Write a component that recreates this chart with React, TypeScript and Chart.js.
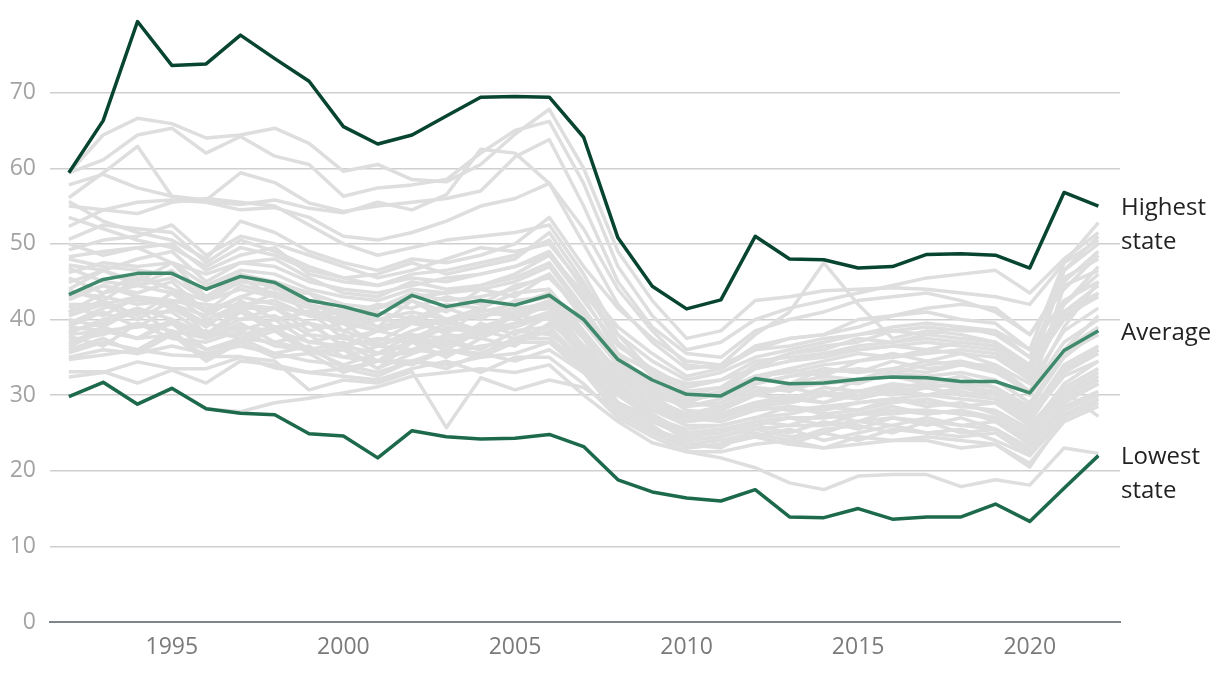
import React, { useEffect, useRef } from "react";
import { Chart, registerables } from "chart.js";
Chart.register(...registerables);

const years = [1992, 1993, 1994, 1995, 1996, 1997, 1998, 1999, 2000, 2001, 2002, 2003, 2004, 2005, 2006, 2007, 2008, 2009, 2010, 2011, 2012, 2013, 2014, 2015, 2016, 2017, 2018, 2019, 2020, 2021, 2022];

const xTickValues = [1995, 2000, 2005, 2010, 2015, 2020];
const yTickValues = [0, 10, 20, 30, 40, 50, 60, 70];

const highest = [59.4, 66.3, 79.4, 73.6, 73.8, 77.6, 74.5, 71.5, 65.5, 63.2, 64.4, 66.9, 69.4, 69.5, 69.4, 64.1, 50.8, 44.4, 41.4, 42.6, 51.0, 48.0, 47.9, 46.8, 47.0, 48.6, 48.7, 48.5, 46.8, 56.8, 55.0];
const average = [43.3, 45.3, 46.1, 46.1, 44.0, 45.7, 44.9, 42.5, 41.7, 40.5, 43.2, 41.7, 42.5, 41.9, 43.2, 40.0, 34.7, 32.0, 30.1, 29.9, 32.2, 31.5, 31.6, 32.1, 32.4, 32.3, 31.8, 31.8, 30.3, 35.9, 38.5];
const lowest = [29.8, 31.7, 28.8, 30.9, 28.2, 27.6, 27.4, 24.9, 24.6, 21.7, 25.3, 24.5, 24.2, 24.3, 24.8, 23.2, 18.8, 17.2, 16.4, 16.0, 17.5, 13.9, 13.8, 15.0, 13.6, 13.9, 13.9, 15.6, 13.3, 17.7, 22.0];

const highlightNames = ["Highest state", "Average", "Lowest state"];
const highlightLines = [["Highest", "state"], ["Average"], ["Lowest", "state"]];

const stateSeries = [
  [59.4, 64.4, 66.6, 65.9, 64.0, 64.4, 65.3, 63.3, 59.6, 60.5, 58.5, 58.2, 60.5, 64.5, 67.8, 60.0, 49.0, 42.5, 37.5, 38.5, 42.5, 43.0, 43.8, 44.0, 44.2, 44.0, 43.5, 43.0, 42.0, 47.5, 50.5],
  [59.4, 61.1, 64.4, 65.3, 62.0, 64.2, 61.6, 60.5, 56.3, 57.4, 57.8, 58.5, 62.0, 65.0, 66.2, 58.0, 47.0, 40.5, 36.0, 37.0, 40.0, 41.5, 42.5, 43.5, 44.5, 45.5, 46.0, 46.5, 43.5, 48.0, 51.5],
  [56.1, 59.4, 62.9, 56.3, 55.8, 59.4, 58.1, 55.4, 54.3, 55.0, 55.5, 56.0, 57.0, 61.5, 63.8, 55.0, 45.0, 39.0, 35.5, 35.0, 38.5, 40.0, 41.0, 42.5, 43.0, 43.5, 42.5, 41.0, 38.0, 44.0, 48.5],
  [57.8, 59.2, 57.4, 56.3, 55.6, 55.2, 55.8, 54.7, 54.1, 55.5, 54.5, 56.5, 62.5, 62.0, 58.0, 52.0, 44.0, 38.5, 34.0, 33.5, 36.5, 37.5, 38.0, 40.0, 40.5, 41.0, 40.0, 39.5, 36.0, 42.5, 45.0],
  [55.0, 54.5, 55.5, 55.8, 55.5, 54.5, 54.8, 53.5, 51.0, 50.5, 51.5, 53.0, 55.0, 56.0, 58.0, 50.0, 42.0, 37.0, 33.5, 34.0, 36.0, 36.5, 37.5, 38.0, 39.0, 39.5, 39.0, 38.0, 35.0, 41.0, 43.5],
  [52.3, 54.5, 54.0, 55.5, 56.0, 55.5, 55.0, 52.5, 50.0, 48.5, 49.5, 50.5, 51.0, 51.5, 52.5, 46.0, 38.0, 33.0, 29.5, 30.0, 31.5, 32.5, 33.0, 33.5, 33.0, 34.0, 34.5, 33.5, 30.0, 44.5, 46.5],
  [55.6, 53.0, 51.5, 50.5, 48.0, 53.0, 51.5, 49.0, 47.5, 46.5, 48.0, 47.5, 48.5, 50.0, 53.5, 47.0, 41.5, 37.5, 34.5, 34.0, 38.0, 41.0, 47.5, 42.0, 37.5, 38.5, 38.0, 37.0, 34.0, 42.0, 47.0],
  [50.6, 52.5, 52.0, 51.5, 47.5, 50.5, 49.0, 47.0, 45.5, 46.0, 47.5, 46.0, 47.0, 48.0, 51.5, 45.0, 37.0, 32.5, 29.0, 28.5, 30.5, 31.0, 31.5, 32.0, 32.5, 32.0, 31.5, 31.0, 28.0, 36.0, 40.5],
  [49.2, 50.5, 51.0, 52.5, 48.5, 51.0, 50.0, 48.5, 47.0, 45.5, 46.5, 48.0, 49.5, 49.0, 50.0, 44.5, 39.0, 35.5, 32.5, 33.5, 36.0, 37.5, 38.0, 39.0, 40.5, 41.5, 42.0, 41.5, 38.0, 45.0, 49.0],
  [48.3, 49.0, 49.5, 50.0, 46.5, 48.5, 49.5, 46.0, 45.0, 44.5, 45.5, 45.0, 46.0, 47.0, 49.0, 43.0, 35.5, 31.0, 28.0, 27.5, 29.0, 29.5, 29.0, 30.0, 30.5, 31.0, 30.0, 29.5, 26.5, 33.0, 36.0],
  [47.2, 46.5, 48.0, 49.0, 45.0, 47.5, 48.0, 45.5, 43.5, 43.0, 45.0, 44.0, 44.5, 46.0, 48.5, 42.5, 36.5, 33.5, 31.0, 32.0, 34.5, 35.0, 35.5, 36.5, 37.0, 37.5, 37.0, 36.5, 33.5, 40.5, 43.0],
  [46.2, 47.5, 47.0, 47.5, 44.5, 46.5, 46.0, 44.0, 43.0, 42.5, 44.0, 43.5, 44.0, 45.0, 47.0, 41.0, 34.0, 30.0, 27.0, 26.5, 28.0, 28.5, 28.0, 29.0, 29.5, 29.0, 28.5, 28.0, 25.5, 31.5, 34.5],
  [44.9, 46.5, 45.0, 47.5, 43.0, 46.0, 44.0, 43.5, 40.5, 42.0, 41.5, 43.0, 42.0, 44.5, 45.5, 41.0, 34.5, 31.5, 29.0, 30.5, 32.0, 33.5, 32.5, 34.5, 35.5, 34.5, 35.5, 34.0, 31.5, 38.5, 41.5],
  [43.9, 42.5, 45.5, 44.0, 41.0, 43.0, 44.5, 40.5, 41.5, 39.0, 42.5, 40.0, 41.5, 43.5, 44.0, 37.5, 30.5, 27.0, 24.0, 24.5, 26.0, 25.0, 26.5, 25.5, 27.0, 26.0, 27.0, 25.5, 23.0, 28.5, 30.5],
  [42.6, 44.5, 43.0, 42.5, 42.0, 41.5, 43.5, 42.0, 38.5, 40.0, 39.5, 41.5, 40.0, 42.5, 43.0, 39.5, 34.0, 31.5, 29.5, 30.0, 32.5, 31.5, 33.5, 33.0, 34.5, 33.5, 34.0, 33.5, 30.0, 36.0, 39.0],
  [41.7, 40.5, 43.0, 41.5, 39.0, 42.5, 40.0, 41.0, 37.5, 38.5, 40.5, 38.0, 41.5, 40.0, 42.0, 36.0, 29.0, 26.0, 23.0, 23.5, 24.5, 25.5, 24.0, 25.0, 26.0, 25.0, 25.5, 24.0, 22.0, 27.0, 29.0],
  [40.9, 42.5, 40.5, 43.5, 41.0, 40.0, 41.5, 38.5, 39.5, 36.5, 38.5, 40.0, 38.5, 41.0, 41.5, 38.0, 33.0, 30.0, 28.5, 29.0, 31.0, 30.5, 32.0, 31.5, 33.0, 32.5, 33.0, 32.0, 29.0, 35.5, 38.0],
  [40.0, 39.0, 41.5, 40.0, 37.5, 41.0, 38.5, 39.5, 36.5, 37.5, 37.0, 39.0, 38.0, 40.5, 40.0, 35.0, 28.5, 25.5, 23.5, 24.0, 25.0, 24.0, 25.5, 26.0, 25.0, 26.5, 25.0, 25.5, 22.5, 27.5, 29.5],
  [39.1, 41.0, 39.0, 41.5, 39.5, 38.5, 40.0, 37.0, 38.0, 35.5, 38.0, 36.5, 39.5, 38.0, 40.5, 36.5, 32.0, 29.5, 27.5, 28.0, 30.0, 29.5, 31.0, 30.5, 31.5, 31.0, 31.5, 30.0, 27.5, 34.0, 36.5],
  [38.2, 40.0, 41.5, 38.0, 38.5, 37.5, 39.0, 36.0, 37.0, 34.5, 37.5, 36.0, 38.5, 37.5, 39.0, 34.0, 28.0, 25.5, 23.5, 23.0, 25.5, 24.5, 25.0, 26.5, 26.0, 27.0, 26.0, 26.5, 23.5, 29.0, 31.5],
  [37.3, 38.0, 39.5, 37.5, 37.0, 38.5, 36.5, 36.0, 34.0, 35.5, 35.5, 37.0, 36.0, 38.5, 38.0, 35.0, 31.0, 28.5, 27.0, 27.5, 28.5, 29.5, 30.5, 29.5, 31.0, 30.0, 30.5, 29.5, 27.0, 33.5, 36.0],
  [36.4, 38.5, 37.5, 40.0, 38.0, 38.0, 39.0, 35.5, 36.5, 33.5, 37.0, 35.0, 37.5, 36.5, 39.5, 36.0, 31.5, 29.0, 27.5, 28.0, 30.0, 31.0, 30.0, 32.0, 32.5, 31.5, 32.5, 31.0, 28.5, 35.0, 38.5],
  [35.6, 37.0, 36.0, 38.5, 35.0, 37.5, 35.5, 36.5, 33.5, 34.5, 34.0, 36.0, 35.0, 37.0, 37.0, 33.0, 27.5, 25.0, 23.0, 23.5, 24.5, 23.5, 25.0, 24.0, 25.5, 25.0, 24.5, 25.0, 22.0, 28.0, 30.0],
  [34.7, 35.3, 36.0, 35.3, 35.1, 35.1, 33.6, 33.0, 33.5, 32.5, 34.5, 33.5, 35.5, 34.5, 36.0, 33.0, 29.0, 27.0, 25.5, 26.0, 27.0, 27.5, 28.5, 28.0, 29.0, 29.5, 28.5, 29.0, 26.0, 31.0, 33.5],
  [33.1, 33.1, 31.6, 33.3, 31.6, 34.5, 34.0, 33.0, 32.5, 32.0, 33.5, 34.5, 33.0, 35.0, 35.0, 31.5, 27.0, 24.5, 22.5, 22.5, 23.5, 24.0, 23.0, 24.5, 24.0, 24.5, 24.0, 23.5, 21.0, 26.5, 28.5],
  [32.4, 33.0, 34.4, 33.5, 33.5, 35.0, 34.5, 30.7, 32.0, 31.6, 33.1, 25.7, 32.3, 30.7, 32.0, 31.0, 28.0, 25.5, 24.0, 24.5, 25.5, 26.0, 26.0, 26.5, 27.0, 26.5, 26.0, 25.5, 23.0, 28.5, 30.0],
  [29.8, 31.7, 28.8, 30.9, 28.2, 27.8, 29.0, 29.6, 30.3, 31.1, 32.5, 33.0, 33.5, 33.0, 34.0, 30.0, 26.5, 23.7, 22.5, 21.7, 20.4, 18.4, 17.5, 19.3, 19.5, 19.5, 17.9, 18.8, 18.1, 23.0, 22.3],
  [45.5, 43.5, 46.0, 44.0, 42.5, 44.0, 43.0, 41.5, 39.5, 41.0, 40.0, 42.0, 41.5, 43.5, 44.0, 38.5, 33.0, 30.5, 29.0, 30.5, 33.5, 35.5, 36.0, 37.5, 37.0, 38.0, 37.5, 37.0, 34.0, 46.5, 50.0],
  [43.0, 44.5, 43.5, 45.0, 41.0, 44.5, 43.5, 42.0, 40.5, 39.0, 40.0, 41.5, 42.5, 42.0, 43.0, 37.5, 31.0, 28.0, 26.0, 26.0, 27.0, 28.5, 27.5, 28.0, 29.5, 28.5, 29.0, 27.5, 25.0, 30.5, 33.0],
  [41.0, 43.5, 44.5, 43.5, 40.0, 42.0, 42.5, 40.5, 41.0, 40.0, 41.0, 40.0, 40.5, 41.5, 42.0, 37.5, 33.5, 31.0, 30.0, 31.0, 34.0, 35.5, 36.5, 37.0, 38.5, 38.0, 39.0, 38.5, 35.0, 45.5, 48.0],
  [39.5, 41.5, 42.5, 42.0, 39.5, 41.5, 41.5, 39.5, 38.5, 37.0, 39.5, 38.5, 39.0, 40.5, 42.0, 36.5, 30.0, 27.5, 25.0, 25.5, 26.0, 27.0, 26.0, 27.5, 28.5, 27.5, 28.0, 27.0, 24.5, 30.0, 32.0],
  [38.5, 39.5, 41.0, 41.0, 38.0, 40.0, 40.5, 38.0, 37.5, 36.5, 38.0, 37.5, 38.5, 39.5, 41.0, 36.5, 32.5, 30.5, 29.5, 30.5, 32.5, 33.5, 34.5, 35.5, 35.0, 36.0, 35.5, 35.0, 32.0, 41.0, 44.5],
  [37.8, 36.5, 39.5, 38.5, 37.5, 39.5, 37.0, 38.0, 35.0, 36.5, 36.0, 38.0, 37.5, 39.5, 40.5, 35.5, 30.5, 28.0, 26.5, 27.5, 29.0, 30.0, 29.0, 30.5, 30.0, 31.0, 30.0, 30.5, 27.5, 33.0, 35.5],
  [36.8, 39.0, 37.5, 39.5, 36.0, 37.0, 38.5, 35.5, 36.0, 33.5, 35.5, 37.5, 36.0, 38.5, 39.0, 34.5, 30.0, 28.0, 26.5, 27.0, 28.5, 29.0, 30.0, 29.5, 30.5, 30.0, 31.0, 30.0, 27.0, 32.5, 34.5],
  [48.0, 47.0, 46.5, 46.0, 44.0, 46.0, 45.0, 43.5, 42.0, 41.5, 43.0, 43.5, 44.5, 45.5, 47.5, 41.5, 35.0, 31.5, 29.5, 30.0, 32.5, 33.0, 34.0, 34.5, 35.0, 35.5, 36.0, 35.5, 32.5, 46.5, 51.0],
  [46.8, 45.0, 44.5, 45.5, 42.5, 45.0, 44.5, 42.0, 41.0, 41.5, 43.5, 42.5, 43.0, 44.0, 46.0, 40.5, 34.0, 30.5, 28.5, 29.5, 31.5, 32.5, 33.5, 33.0, 33.5, 34.5, 34.0, 34.0, 30.5, 39.0, 45.0],
  [44.0, 46.5, 44.5, 46.5, 42.5, 45.5, 43.0, 43.5, 40.0, 41.5, 42.5, 41.0, 44.0, 43.0, 46.0, 40.0, 35.5, 33.0, 31.5, 32.0, 33.5, 34.5, 35.0, 36.0, 36.5, 36.0, 37.0, 36.5, 33.5, 40.0, 43.5],
  [42.0, 42.0, 43.0, 42.0, 40.5, 43.0, 42.0, 40.5, 39.5, 38.5, 39.5, 39.5, 41.0, 42.0, 43.5, 38.0, 32.5, 29.5, 27.5, 27.5, 29.0, 29.0, 30.0, 30.5, 31.0, 31.5, 31.0, 30.5, 27.5, 33.0, 36.0],
  [40.5, 42.0, 40.0, 42.5, 38.0, 41.5, 39.0, 39.5, 36.5, 38.5, 37.5, 39.5, 38.5, 41.0, 41.5, 36.0, 30.0, 27.0, 24.5, 25.0, 26.5, 26.0, 27.5, 26.5, 28.0, 27.5, 28.0, 26.5, 24.0, 30.0, 32.5],
  [39.0, 38.5, 39.0, 39.5, 37.5, 39.0, 38.5, 37.0, 36.5, 35.5, 37.0, 37.0, 38.0, 39.0, 40.5, 35.5, 30.0, 27.0, 25.0, 25.0, 26.5, 27.0, 27.0, 27.5, 27.5, 28.0, 27.5, 27.0, 24.5, 30.0, 32.0],
  [35.0, 36.0, 35.5, 36.5, 35.5, 36.5, 35.5, 34.5, 34.0, 33.0, 34.5, 34.0, 35.0, 35.5, 37.0, 33.5, 29.0, 26.5, 25.0, 25.5, 26.5, 27.0, 27.0, 27.5, 28.0, 28.0, 27.5, 27.0, 24.5, 29.5, 31.5],
  [50.0, 48.5, 49.5, 47.5, 46.0, 47.5, 47.0, 45.0, 44.0, 43.5, 44.5, 45.5, 46.0, 47.0, 48.5, 43.5, 38.0, 34.5, 32.0, 33.0, 35.0, 36.0, 37.0, 38.0, 38.5, 39.0, 38.5, 38.5, 36.0, 47.5, 52.8],
  [53.5, 52.0, 50.5, 49.5, 47.0, 49.5, 48.5, 46.5, 45.5, 44.5, 46.0, 46.5, 47.5, 48.5, 50.5, 44.0, 37.0, 33.0, 30.5, 31.0, 33.5, 34.5, 35.5, 36.0, 36.5, 37.0, 36.5, 36.0, 33.0, 42.0, 46.0],
  [43.5, 43.0, 42.0, 42.5, 41.5, 42.0, 41.5, 41.0, 40.0, 38.5, 39.5, 40.0, 40.5, 41.0, 42.5, 37.5, 31.5, 28.5, 26.5, 27.0, 28.5, 28.0, 28.5, 29.0, 29.5, 30.0, 29.5, 29.0, 26.0, 30.5, 27.2],
  [38.0, 38.5, 37.5, 38.0, 36.0, 37.5, 37.0, 36.0, 35.0, 34.5, 36.0, 35.5, 36.5, 37.0, 38.5, 34.0, 29.0, 26.5, 24.5, 24.0, 24.5, 23.5, 23.0, 23.5, 24.0, 24.0, 23.0, 23.5, 20.5, 27.0, 29.5],
  [36.0, 37.5, 35.5, 38.0, 34.5, 37.0, 35.0, 35.5, 33.0, 34.5, 34.5, 36.0, 35.5, 37.5, 37.5, 34.0, 30.5, 28.5, 27.5, 28.5, 30.0, 31.5, 32.5, 32.0, 33.5, 33.0, 34.0, 33.0, 30.5, 37.0, 40.0],
];

const GRAY = "#dedede";
const HIGHLIGHT_COLORS = ["#074530", "#3f8a6c", "#1c6a4b"];
const FONT = "'Open Sans', 'Noto Sans', sans-serif";

function toPoints(vals: number[]) {
  return years.map((yr, i) => ({ x: yr, y: vals[i] }));
}

const endLabelPlugin = {
  id: "endLabels",
  afterDatasetsDraw(chart: any) {
    const { ctx, chartArea, scales } = chart;
    const highlightSeries = [highest, average, lowest];
    ctx.save();
    ctx.font = `24px ${FONT}`;
    ctx.fillStyle = "#222222";
    ctx.textAlign = "left";
    ctx.textBaseline = "middle";
    highlightSeries.forEach((s, i) => {
      const y = scales.y.getPixelForValue(s[s.length - 1]) + 2;
      highlightLines[i].forEach((t, j) => {
        ctx.fillText(t, chartArea.right + 1, y + j * 34);
      });
    });
    ctx.restore();
  },
};

export default function App() {
  const ref = useRef<HTMLCanvasElement | null>(null);

  useEffect(() => {
    document.body.style.margin = "0";
    if (!ref.current) return;
    const grayDatasets = stateSeries.map((s, i) => ({
      label: "State " + (i + 1),
      data: toPoints(s),
      borderColor: GRAY,
      borderWidth: 3.5,
      pointRadius: 0,
      tension: 0,
      borderJoinStyle: "round" as const,
      order: 10,
    }));
    const hl = [highest, average, lowest].map((s, i) => ({
      label: highlightNames[i],
      data: toPoints(s),
      borderColor: HIGHLIGHT_COLORS[i],
      borderWidth: 3.5,
      pointRadius: 0,
      tension: 0,
      borderJoinStyle: "round" as const,
      order: 1,
    }));

    const chart = new Chart(ref.current, {
      type: "line",
      data: { datasets: [...grayDatasets, ...hl] as any },
      plugins: [endLabelPlugin],
      options: {
        animation: false,
        responsive: false,
        events: [],
        layout: { padding: { top: 17, right: 100, left: 0, bottom: 0 } },
        plugins: { legend: { display: false }, tooltip: { enabled: false } },
        scales: {
          x: {
            type: "linear",
            min: 1991.45,
            max: 2022.63,
            afterBuildTicks: (scale: any) => {
              scale.ticks = xTickValues.map((v) => ({ value: v }));
            },
            afterFit: (scale: any) => {
              scale.height = 56;
              scale.paddingLeft = 0;
              scale.paddingRight = 0;
            },
            grid: { display: false, drawTicks: false },
            border: { display: true, color: "#7d868b", width: 2 },
            ticks: {
              padding: 12,
              color: "#7a7a7a",
              font: { family: FONT, size: 23 },
              maxRotation: 0,
              callback: (v: any) => String(v),
            },
          },
          y: {
            type: "linear",
            min: 0,
            max: 80,
            afterBuildTicks: (scale: any) => {
              scale.ticks = yTickValues.map((v) => ({ value: v }));
            },
            afterFit: (scale: any) => {
              scale.width = 50;
              scale.paddingTop = 0;
              scale.paddingBottom = 0;
            },
            grid: { color: "#cfcfcf", lineWidth: 1.5, drawTicks: false },
            border: { display: false },
            ticks: {
              padding: 14,
              color: "#a3a3a3",
              font: { family: FONT, size: 23 },
              callback: (v: any) => String(v),
            },
          },
        },
      },
    });
    return () => chart.destroy();
  }, []);

  return (
    <div style={{ width: 1220, height: 678, background: "#ffffff" }}>
      <canvas ref={ref} width={1220} height={678} style={{ display: "block" }} />
    </div>
  );
}
